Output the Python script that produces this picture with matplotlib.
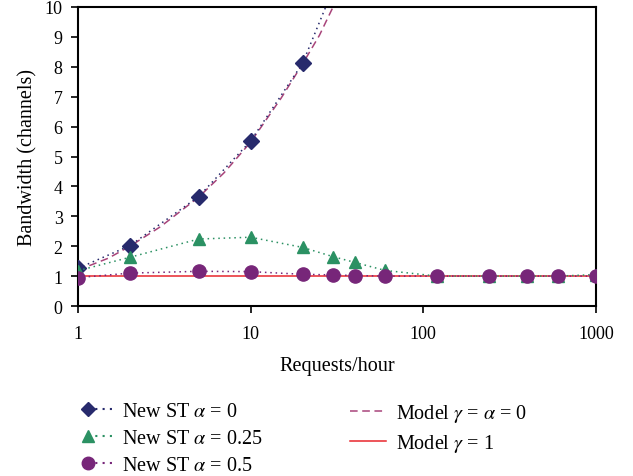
import matplotlib.pyplot as plt
from matplotlib.lines import Line2D
from matplotlib.legend_handler import HandlerLine2DCompound

# requests per hour
x_st = [1, 2, 5, 10, 20, 30, 40, 60, 120, 240, 400, 600, 1000]

# New ST alpha = 0 (last point runs off the top of the chart)
x_a0 = [1, 2, 5, 10, 20, 30]
bw_a0 = [1.26, 2.02, 3.66, 5.52, 8.12, 10.6]

# New ST alpha = 0.25
bw_a025 = [1.18, 1.63, 2.24, 2.30, 1.96, 1.65, 1.46, 1.19, 1.0, 1.0, 1.0, 1.0, 1.05]

# New ST alpha = 0.5
bw_a05 = [0.95, 1.10, 1.16, 1.15, 1.06, 1.04, 1.02, 1.0, 1.0, 1.0, 1.0, 1.0, 1.0]

# Model gamma = alpha = 0
x_model = [1, 1.5, 2, 3, 5, 7, 10, 15, 20, 25, 30, 32]
bw_model = [1.2, 1.6, 2.0, 2.65, 3.64, 4.45, 5.48, 6.95, 8.1, 9.05, 10.0, 10.4]

# Model gamma = 1
x_flat = [1, 1000]
bw_flat = [1.0, 1.0]

plt.rcParams["font.family"] = ["Liberation Serif", "DejaVu Serif"]
plt.rcParams["mathtext.fontset"] = "stix"

c_a0 = "#272a6c"
c_a025 = "#2b9163"
c_a05 = "#772679"
c_model = "#a8447a"
c_flat = "#e8262c"
dots = (0, (1, 2.5))


class MarkerLeftHandler(HandlerLine2DCompound):
    # Excel-style legend key: marker on the left, short dotted tail after it
    def get_xdata(self, legend, xdescent, ydescent, width, height, fontsize):
        x0 = -xdescent + 0.2 * width
        return [x0, -xdescent + width], [x0]


fig = plt.figure(figsize=(6.33, 4.77), dpi=100)
ax = fig.add_axes([78 / 633, 1 - 307 / 477, (596 - 78) / 633, (307 - 8) / 477])

ax.plot(x_flat, bw_flat, color=c_flat, lw=1.1, zorder=2)
ax.plot(x_model, bw_model, color=c_model, lw=1.1, ls=(0, (5, 3)), zorder=2)
ax.plot(x_a0, bw_a0, color=c_a0, lw=1.1, ls=dots, marker="D",
        ms=8, zorder=3)
ax.plot(x_st, bw_a025, color=c_a025, lw=1.1, ls=dots, marker="^",
        ms=9, zorder=4)
ax.plot(x_st, bw_a05, color=c_a05, lw=1.1, ls=dots, marker="o",
        ms=9.5, zorder=5)

ax.set_xscale("log")
ax.set_xlim(1, 1000)
ax.set_ylim(0, 10)
ax.set_yticks(range(0, 11))
ax.set_xticks([1, 10, 100, 1000])
ax.set_xticklabels(["1", "10", "100", "1000"])
ax.minorticks_off()
ax.tick_params(direction="out", length=5, width=1.2, labelsize=13, pad=6)
ax.tick_params(axis="x", pad=9)
for sp in ax.spines.values():
    sp.set_linewidth(1.5)

ax.set_xlabel("Requests/hour", fontsize=14.5, labelpad=10)
ax.set_ylabel("Bandwidth (channels)", fontsize=14.5, labelpad=5)

left_handles = [
    Line2D([], [], color=c_a0, ls=dots, marker="D", ms=7.5),
    Line2D([], [], color=c_a025, ls=dots, marker="^", ms=8.5),
    Line2D([], [], color=c_a05, ls=dots, marker="o", ms=9),
]
left_labels = [
    r"New ST $\alpha$ = 0",
    r"New ST $\alpha$ = 0.25",
    r"New ST $\alpha$ = 0.5",
]
right_handles = [
    Line2D([], [], color=c_model, ls=(0, (5, 3)), lw=1.1),
    Line2D([], [], color=c_flat, lw=1.1),
]
right_labels = [
    r"Model $\gamma$ = $\alpha$ = 0",
    r"Model $\gamma$ = 1",
]

leg_kw = dict(loc="upper left", frameon=False, fontsize=14.5,
              labelspacing=0.4, borderaxespad=0, handletextpad=0.5)
fig.legend(left_handles, left_labels, bbox_to_anchor=(0.117, 0.172),
           handlelength=1.5,
           handler_map={Line2D: MarkerLeftHandler(numpoints=1)}, **leg_kw)
fig.legend(right_handles, right_labels, bbox_to_anchor=(0.540, 0.172),
           handlelength=1.8, **leg_kw)

fig.savefig("out.png", dpi=100)
